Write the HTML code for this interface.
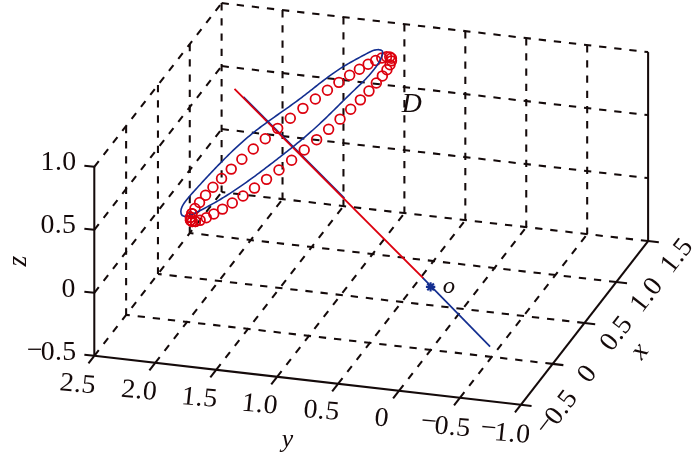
<!DOCTYPE html>
<html><head><meta charset="utf-8"><style>
html,body{margin:0;padding:0;background:#fff;}
svg{display:block;}
text{font-family:'Liberation Serif', 'DejaVu Serif', serif;fill:#140a0a;}
</style></head><body>
<svg width="700" height="456" viewBox="0 0 700 456">
<rect width="700" height="456" fill="#fff"/>
<g stroke-linecap="butt">
<line x1="459.88" y1="397.80" x2="587.18" y2="234.10" stroke="#140a0a" stroke-width="2.05" stroke-dasharray="7.3 7.9"/>
<line x1="398.95" y1="390.80" x2="526.25" y2="227.10" stroke="#140a0a" stroke-width="2.05" stroke-dasharray="7.3 7.9"/>
<line x1="338.02" y1="383.80" x2="465.32" y2="220.10" stroke="#140a0a" stroke-width="2.05" stroke-dasharray="7.3 7.9"/>
<line x1="277.09" y1="376.80" x2="404.39" y2="213.10" stroke="#140a0a" stroke-width="2.05" stroke-dasharray="7.3 7.9"/>
<line x1="216.16" y1="369.80" x2="343.46" y2="206.10" stroke="#140a0a" stroke-width="2.05" stroke-dasharray="7.3 7.9"/>
<line x1="155.23" y1="362.80" x2="282.53" y2="199.10" stroke="#140a0a" stroke-width="2.05" stroke-dasharray="7.3 7.9"/>
<line x1="94.30" y1="355.80" x2="221.60" y2="192.10" stroke="#140a0a" stroke-width="2.05" stroke-dasharray="7.3 7.9"/>
<line x1="552.63" y1="363.88" x2="126.12" y2="314.88" stroke="#140a0a" stroke-width="2.05" stroke-dasharray="7.3 7.9"/>
<line x1="584.46" y1="322.95" x2="157.95" y2="273.95" stroke="#140a0a" stroke-width="2.05" stroke-dasharray="7.3 7.9"/>
<line x1="616.28" y1="282.03" x2="189.77" y2="233.03" stroke="#140a0a" stroke-width="2.05" stroke-dasharray="7.3 7.9"/>
<line x1="648.11" y1="241.10" x2="221.60" y2="192.10" stroke="#140a0a" stroke-width="2.05" stroke-dasharray="7.3 7.9"/>
<line x1="587.18" y1="45.10" x2="587.18" y2="234.10" stroke="#140a0a" stroke-width="2.05" stroke-dasharray="7.3 7.9"/>
<line x1="526.25" y1="38.10" x2="526.25" y2="227.10" stroke="#140a0a" stroke-width="2.05" stroke-dasharray="7.3 7.9"/>
<line x1="465.32" y1="31.10" x2="465.32" y2="220.10" stroke="#140a0a" stroke-width="2.05" stroke-dasharray="7.3 7.9"/>
<line x1="404.39" y1="24.10" x2="404.39" y2="213.10" stroke="#140a0a" stroke-width="2.05" stroke-dasharray="7.3 7.9"/>
<line x1="343.46" y1="17.10" x2="343.46" y2="206.10" stroke="#140a0a" stroke-width="2.05" stroke-dasharray="7.3 7.9"/>
<line x1="282.53" y1="10.10" x2="282.53" y2="199.10" stroke="#140a0a" stroke-width="2.05" stroke-dasharray="7.3 7.9"/>
<line x1="221.60" y1="3.10" x2="221.60" y2="192.10" stroke="#140a0a" stroke-width="2.05" stroke-dasharray="7.3 7.9"/>
<line x1="221.60" y1="129.10" x2="648.11" y2="178.10" stroke="#140a0a" stroke-width="2.05" stroke-dasharray="7.3 7.9"/>
<line x1="221.60" y1="66.10" x2="648.11" y2="115.10" stroke="#140a0a" stroke-width="2.05" stroke-dasharray="7.3 7.9"/>
<line x1="221.60" y1="3.10" x2="648.11" y2="52.10" stroke="#140a0a" stroke-width="2.05" stroke-dasharray="7.3 7.9"/>
<line x1="126.12" y1="125.88" x2="126.12" y2="314.88" stroke="#140a0a" stroke-width="2.05" stroke-dasharray="7.3 7.9"/>
<line x1="157.95" y1="84.95" x2="157.95" y2="273.95" stroke="#140a0a" stroke-width="2.05" stroke-dasharray="7.3 7.9"/>
<line x1="189.77" y1="44.03" x2="189.77" y2="233.03" stroke="#140a0a" stroke-width="2.05" stroke-dasharray="7.3 7.9"/>
<line x1="94.30" y1="292.80" x2="221.60" y2="129.10" stroke="#140a0a" stroke-width="2.05" stroke-dasharray="7.3 7.9"/>
<line x1="94.30" y1="229.80" x2="221.60" y2="66.10" stroke="#140a0a" stroke-width="2.05" stroke-dasharray="7.3 7.9"/>
<line x1="94.30" y1="166.80" x2="221.60" y2="3.10" stroke="#140a0a" stroke-width="2.05" stroke-dasharray="7.3 7.9"/>
<line x1="94.30" y1="355.80" x2="94.30" y2="166.80" stroke="#140a0a" stroke-width="2.05"/>
<line x1="94.30" y1="355.80" x2="520.81" y2="404.80" stroke="#140a0a" stroke-width="2.05"/>
<line x1="520.81" y1="404.80" x2="648.11" y2="241.10" stroke="#140a0a" stroke-width="2.05"/>
<line x1="648.11" y1="241.10" x2="648.11" y2="52.10" stroke="#140a0a" stroke-width="2.05"/>
<line x1="94.30" y1="355.80" x2="84.37" y2="354.66" stroke="#140a0a" stroke-width="2.05"/>
<line x1="94.30" y1="292.80" x2="84.37" y2="291.66" stroke="#140a0a" stroke-width="2.05"/>
<line x1="94.30" y1="229.80" x2="84.37" y2="228.66" stroke="#140a0a" stroke-width="2.05"/>
<line x1="94.30" y1="166.80" x2="84.37" y2="165.66" stroke="#140a0a" stroke-width="2.05"/>
<line x1="520.81" y1="404.80" x2="514.98" y2="412.30" stroke="#140a0a" stroke-width="2.05"/>
<line x1="459.88" y1="397.80" x2="454.05" y2="405.30" stroke="#140a0a" stroke-width="2.05"/>
<line x1="398.95" y1="390.80" x2="393.12" y2="398.30" stroke="#140a0a" stroke-width="2.05"/>
<line x1="338.02" y1="383.80" x2="332.19" y2="391.30" stroke="#140a0a" stroke-width="2.05"/>
<line x1="277.09" y1="376.80" x2="271.26" y2="384.30" stroke="#140a0a" stroke-width="2.05"/>
<line x1="216.16" y1="369.80" x2="210.33" y2="377.30" stroke="#140a0a" stroke-width="2.05"/>
<line x1="155.23" y1="362.80" x2="149.40" y2="370.30" stroke="#140a0a" stroke-width="2.05"/>
<line x1="94.30" y1="355.80" x2="88.47" y2="363.30" stroke="#140a0a" stroke-width="2.05"/>
<line x1="520.81" y1="404.80" x2="531.54" y2="406.03" stroke="#140a0a" stroke-width="2.05"/>
<line x1="552.63" y1="363.88" x2="563.36" y2="365.11" stroke="#140a0a" stroke-width="2.05"/>
<line x1="584.46" y1="322.95" x2="595.19" y2="324.18" stroke="#140a0a" stroke-width="2.05"/>
<line x1="616.28" y1="282.03" x2="627.01" y2="283.26" stroke="#140a0a" stroke-width="2.05"/>
<line x1="648.11" y1="241.10" x2="658.84" y2="242.33" stroke="#140a0a" stroke-width="2.05"/>
</g>
<g id="data">
<line x1="243.42" y1="96.95" x2="344.38" y2="198.19" stroke="#132e90" stroke-width="1.7"/>
<line x1="422.6" y1="277.6" x2="490.1" y2="346.7" stroke="#132e90" stroke-width="1.7"/>
<line x1="234.5" y1="88.9" x2="423.2" y2="278.2" stroke="#dc000e" stroke-width="1.85"/>
<circle cx="391.42" cy="58.23" r="4.85" fill="none" stroke="#dc000e" stroke-width="1.75"/>
<circle cx="391.50" cy="60.86" r="4.85" fill="none" stroke="#dc000e" stroke-width="1.75"/>
<circle cx="390.00" cy="64.74" r="4.85" fill="none" stroke="#dc000e" stroke-width="1.75"/>
<circle cx="386.93" cy="69.78" r="4.85" fill="none" stroke="#dc000e" stroke-width="1.75"/>
<circle cx="382.35" cy="75.92" r="4.85" fill="none" stroke="#dc000e" stroke-width="1.75"/>
<circle cx="376.33" cy="83.06" r="4.85" fill="none" stroke="#dc000e" stroke-width="1.75"/>
<circle cx="368.97" cy="91.08" r="4.85" fill="none" stroke="#dc000e" stroke-width="1.75"/>
<circle cx="360.37" cy="99.86" r="4.85" fill="none" stroke="#dc000e" stroke-width="1.75"/>
<circle cx="350.68" cy="109.26" r="4.85" fill="none" stroke="#dc000e" stroke-width="1.75"/>
<circle cx="340.04" cy="119.14" r="4.85" fill="none" stroke="#dc000e" stroke-width="1.75"/>
<circle cx="328.63" cy="129.33" r="4.85" fill="none" stroke="#dc000e" stroke-width="1.75"/>
<circle cx="316.63" cy="139.67" r="4.85" fill="none" stroke="#dc000e" stroke-width="1.75"/>
<circle cx="304.22" cy="150.01" r="4.85" fill="none" stroke="#dc000e" stroke-width="1.75"/>
<circle cx="291.61" cy="160.18" r="4.85" fill="none" stroke="#dc000e" stroke-width="1.75"/>
<circle cx="278.98" cy="170.01" r="4.85" fill="none" stroke="#dc000e" stroke-width="1.75"/>
<circle cx="266.54" cy="179.36" r="4.85" fill="none" stroke="#dc000e" stroke-width="1.75"/>
<circle cx="254.49" cy="188.08" r="4.85" fill="none" stroke="#dc000e" stroke-width="1.75"/>
<circle cx="243.01" cy="196.02" r="4.85" fill="none" stroke="#dc000e" stroke-width="1.75"/>
<circle cx="232.29" cy="203.07" r="4.85" fill="none" stroke="#dc000e" stroke-width="1.75"/>
<circle cx="222.49" cy="209.11" r="4.85" fill="none" stroke="#dc000e" stroke-width="1.75"/>
<circle cx="213.77" cy="214.05" r="4.85" fill="none" stroke="#dc000e" stroke-width="1.75"/>
<circle cx="206.27" cy="217.81" r="4.85" fill="none" stroke="#dc000e" stroke-width="1.75"/>
<circle cx="200.11" cy="220.33" r="4.85" fill="none" stroke="#dc000e" stroke-width="1.75"/>
<circle cx="195.38" cy="221.57" r="4.85" fill="none" stroke="#dc000e" stroke-width="1.75"/>
<circle cx="192.15" cy="221.51" r="4.85" fill="none" stroke="#dc000e" stroke-width="1.75"/>
<circle cx="190.48" cy="220.15" r="4.85" fill="none" stroke="#dc000e" stroke-width="1.75"/>
<circle cx="190.40" cy="217.51" r="4.85" fill="none" stroke="#dc000e" stroke-width="1.75"/>
<circle cx="191.91" cy="213.64" r="4.85" fill="none" stroke="#dc000e" stroke-width="1.75"/>
<circle cx="194.97" cy="208.59" r="4.85" fill="none" stroke="#dc000e" stroke-width="1.75"/>
<circle cx="199.55" cy="202.45" r="4.85" fill="none" stroke="#dc000e" stroke-width="1.75"/>
<circle cx="205.57" cy="195.32" r="4.85" fill="none" stroke="#dc000e" stroke-width="1.75"/>
<circle cx="212.94" cy="187.29" r="4.85" fill="none" stroke="#dc000e" stroke-width="1.75"/>
<circle cx="221.54" cy="178.51" r="4.85" fill="none" stroke="#dc000e" stroke-width="1.75"/>
<circle cx="231.23" cy="169.11" r="4.85" fill="none" stroke="#dc000e" stroke-width="1.75"/>
<circle cx="241.86" cy="159.24" r="4.85" fill="none" stroke="#dc000e" stroke-width="1.75"/>
<circle cx="253.27" cy="149.05" r="4.85" fill="none" stroke="#dc000e" stroke-width="1.75"/>
<circle cx="265.27" cy="138.70" r="4.85" fill="none" stroke="#dc000e" stroke-width="1.75"/>
<circle cx="277.68" cy="128.36" r="4.85" fill="none" stroke="#dc000e" stroke-width="1.75"/>
<circle cx="290.30" cy="118.20" r="4.85" fill="none" stroke="#dc000e" stroke-width="1.75"/>
<circle cx="302.92" cy="108.36" r="4.85" fill="none" stroke="#dc000e" stroke-width="1.75"/>
<circle cx="315.36" cy="99.01" r="4.85" fill="none" stroke="#dc000e" stroke-width="1.75"/>
<circle cx="327.42" cy="90.29" r="4.85" fill="none" stroke="#dc000e" stroke-width="1.75"/>
<circle cx="338.89" cy="82.35" r="4.85" fill="none" stroke="#dc000e" stroke-width="1.75"/>
<circle cx="349.62" cy="75.30" r="4.85" fill="none" stroke="#dc000e" stroke-width="1.75"/>
<circle cx="359.41" cy="69.26" r="4.85" fill="none" stroke="#dc000e" stroke-width="1.75"/>
<circle cx="368.13" cy="64.32" r="4.85" fill="none" stroke="#dc000e" stroke-width="1.75"/>
<circle cx="375.63" cy="60.56" r="4.85" fill="none" stroke="#dc000e" stroke-width="1.75"/>
<circle cx="381.80" cy="58.05" r="4.85" fill="none" stroke="#dc000e" stroke-width="1.75"/>
<circle cx="386.53" cy="56.81" r="4.85" fill="none" stroke="#dc000e" stroke-width="1.75"/>
<circle cx="389.75" cy="56.87" r="4.85" fill="none" stroke="#dc000e" stroke-width="1.75"/>
<path d="M182.19,215.49 L181.13,213.76 L180.84,211.44 L181.18,209.12 L181.98,206.97 L183.04,204.95 L184.23,203.03 L185.53,201.19 L186.90,199.41 L188.33,197.69 L189.80,195.99 L191.28,194.32 L192.76,192.65 L194.24,190.99 L195.73,189.34 L197.22,187.70 L198.72,186.06 L200.22,184.42 L201.72,182.79 L203.23,181.16 L204.74,179.53 L206.25,177.91 L207.77,176.28 L209.29,174.65 L210.82,173.02 L212.36,171.40 L213.90,169.78 L215.44,168.16 L216.99,166.54 L218.55,164.93 L220.11,163.32 L221.68,161.72 L223.25,160.12 L224.84,158.53 L226.43,156.95 L228.02,155.37 L229.63,153.80 L231.24,152.24 L232.86,150.69 L234.49,149.15 L236.12,147.62 L237.77,146.10 L239.42,144.59 L241.08,143.09 L242.75,141.60 L244.43,140.13 L246.12,138.66 L247.82,137.22 L249.53,135.78 L251.25,134.37 L252.99,132.96 L254.73,131.58 L256.48,130.20 L258.24,128.85 L260.01,127.50 L261.78,126.16 L263.57,124.84 L265.36,123.52 L267.16,122.22 L268.96,120.92 L270.76,119.62 L272.57,118.33 L274.39,117.05 L276.21,115.77 L278.03,114.49 L279.85,113.21 L281.67,111.93 L283.49,110.65 L285.31,109.37 L287.13,108.08 L288.95,106.79 L290.76,105.50 L292.58,104.20 L294.39,102.89 L296.19,101.57 L297.99,100.24 L299.78,98.90 L301.57,97.55 L303.35,96.19 L305.13,94.82 L306.90,93.44 L308.67,92.06 L310.44,90.67 L312.20,89.28 L313.97,87.89 L315.73,86.50 L317.50,85.12 L319.26,83.74 L321.03,82.36 L322.80,81.00 L324.58,79.64 L326.35,78.30 L328.14,76.97 L329.93,75.65 L331.73,74.35 L333.53,73.07 L335.35,71.81 L337.17,70.57 L339.00,69.35 L340.85,68.16 L342.71,67.00 L344.58,65.86 L346.46,64.73 L348.35,63.63 L350.27,62.53 L352.19,61.45 L354.14,60.37 L356.10,59.30 L358.08,58.22 L360.08,57.14 L362.09,56.06 L364.13,54.97 L366.19,53.86 L368.27,52.75 L370.37,51.70 L372.49,50.78 L374.62,50.09 L376.76,49.68 L378.92,49.66 L381.02,50.10 L382.44,51.16 L382.75,52.84 L382.33,54.87 L381.57,56.97 L380.66,59.05 L379.61,61.08 L378.45,63.08 L377.20,65.03 L375.89,66.93 L374.54,68.77 L373.15,70.56 L371.73,72.31 L370.28,74.02 L368.80,75.69 L367.29,77.32 L365.76,78.93 L364.22,80.51 L362.65,82.07 L361.07,83.61 L359.49,85.14 L357.89,86.67 L356.29,88.19 L354.69,89.71 L353.09,91.23 L351.49,92.77 L349.89,94.31 L348.30,95.86 L346.71,97.41 L345.12,98.97 L343.53,100.54 L341.95,102.11 L340.36,103.68 L338.77,105.25 L337.19,106.83 L335.60,108.40 L334.01,109.98 L332.41,111.55 L330.82,113.12 L329.22,114.69 L327.61,116.25 L326.00,117.81 L324.39,119.36 L322.77,120.91 L321.14,122.44 L319.51,123.97 L317.87,125.49 L316.23,127.00 L314.57,128.50 L312.91,129.99 L311.24,131.46 L309.56,132.93 L307.87,134.39 L306.18,135.84 L304.48,137.28 L302.77,138.71 L301.06,140.13 L299.34,141.55 L297.62,142.96 L295.89,144.36 L294.16,145.76 L292.43,147.15 L290.69,148.54 L288.94,149.93 L287.19,151.31 L285.44,152.69 L283.69,154.06 L281.93,155.43 L280.18,156.80 L278.42,158.17 L276.66,159.54 L274.89,160.91 L273.13,162.28 L271.36,163.64 L269.59,165.00 L267.82,166.36 L266.04,167.72 L264.27,169.07 L262.49,170.42 L260.70,171.76 L258.92,173.10 L257.12,174.44 L255.33,175.77 L253.53,177.09 L251.73,178.41 L249.92,179.72 L248.11,181.02 L246.29,182.31 L244.47,183.60 L242.64,184.88 L240.81,186.15 L238.97,187.42 L237.13,188.67 L235.27,189.91 L233.42,191.14 L231.55,192.37 L229.68,193.58 L227.81,194.78 L225.92,195.97 L224.03,197.14 L222.13,198.30 L220.23,199.46 L218.31,200.59 L216.39,201.72 L214.46,202.83 L212.52,203.92 L210.58,205.00 L208.62,206.07 L206.65,207.14 L204.67,208.19 L202.68,209.23 L200.68,210.27 L198.66,211.30 L196.63,212.33 L194.59,213.36 L192.52,214.34 L190.44,215.19 L188.34,215.84 L186.20,216.20 L184.05,216.19 L182.19,215.49Z" fill="none" stroke="#132e90" stroke-width="1.6" stroke-linejoin="round"/>
<circle cx="195.38" cy="221.57" r="4.85" fill="none" stroke="#dc000e" stroke-width="1.75"/>
<circle cx="192.15" cy="221.51" r="4.85" fill="none" stroke="#dc000e" stroke-width="1.75"/>
<circle cx="190.48" cy="220.15" r="4.85" fill="none" stroke="#dc000e" stroke-width="1.75"/>
<circle cx="190.40" cy="217.51" r="4.85" fill="none" stroke="#dc000e" stroke-width="1.75"/>
<circle cx="191.91" cy="213.64" r="4.85" fill="none" stroke="#dc000e" stroke-width="1.75"/>
<path d="M425.90,286.90L435.30,286.90 M427.28,283.58L433.92,290.22 M430.60,282.20L430.60,291.60 M433.92,283.58L427.28,290.22" stroke="#132e90" stroke-width="2.1" fill="none"/>
</g>
<text x="0" y="0" font-size="27" text-anchor="middle" dominant-baseline="central" letter-spacing="0.4" transform="translate(58.60 161.15) scale(1.03 1)">1.0</text>
<text x="0" y="0" font-size="27" text-anchor="middle" dominant-baseline="central" letter-spacing="0.4" transform="translate(58.45 223.95) scale(1.03 1)">0.5</text>
<text x="0" y="0" font-size="27" text-anchor="middle" dominant-baseline="central" letter-spacing="0.4" transform="translate(68.70 287.90) scale(1.03 1)">0</text>
<text x="0" y="0" font-size="27" text-anchor="middle" dominant-baseline="central" letter-spacing="0.4" transform="translate(51.70 350.80) scale(1.03 1)"><tspan dy="-2.0">−</tspan><tspan dx="-2.2" dy="2.0">0.5</tspan></text>
<text x="0" y="0" font-size="27" text-anchor="middle" dominant-baseline="central" letter-spacing="0.4" font-style="italic" transform="translate(17.00 260.90) rotate(-90) scale(1.03 1)">z</text>
<text x="0" y="0" font-size="27" text-anchor="middle" dominant-baseline="central" letter-spacing="0.4" transform="translate(78.00 383.15) skewY(5) skewX(-6) scale(1.03 1)">2.5</text>
<text x="0" y="0" font-size="27" text-anchor="middle" dominant-baseline="central" letter-spacing="0.4" transform="translate(139.35 389.60) skewY(5) skewX(-6) scale(1.03 1)">2.0</text>
<text x="0" y="0" font-size="27" text-anchor="middle" dominant-baseline="central" letter-spacing="0.4" transform="translate(199.70 396.75) skewY(5) skewX(-6) scale(1.03 1)">1.5</text>
<text x="0" y="0" font-size="27" text-anchor="middle" dominant-baseline="central" letter-spacing="0.4" transform="translate(259.90 403.30) skewY(5) skewX(-6) scale(1.03 1)">1.0</text>
<text x="0" y="0" font-size="27" text-anchor="middle" dominant-baseline="central" letter-spacing="0.4" transform="translate(321.70 409.70) skewY(5) skewX(-6) scale(1.03 1)">0.5</text>
<text x="0" y="0" font-size="27" text-anchor="middle" dominant-baseline="central" letter-spacing="0.4" transform="translate(381.85 417.05) skewY(5) skewX(-6) scale(1.03 1)">0</text>
<text x="0" y="0" font-size="27" text-anchor="middle" dominant-baseline="central" letter-spacing="0.4" transform="translate(445.85 425.50) skewY(5) skewX(-6) scale(1.03 1)"><tspan dy="-3.5">−</tspan><tspan dx="-2.2" dy="3.5">0.5</tspan></text>
<text x="0" y="0" font-size="27" text-anchor="middle" dominant-baseline="central" letter-spacing="0.4" transform="translate(505.55 432.15) skewY(5) skewX(-6) scale(1.03 1)"><tspan dy="-3.5">−</tspan><tspan dx="-2.2" dy="3.5">1.0</tspan></text>
<text x="0" y="0" font-size="25" text-anchor="middle" dominant-baseline="central" letter-spacing="0.4" font-style="italic" transform="translate(287.60 437.70) scale(1.03 1)">y</text>
<text x="0" y="0" font-size="27" text-anchor="middle" dominant-baseline="central" letter-spacing="0.4" transform="translate(676.00 254.85) rotate(-52.13) scale(1.03 1)">1.5</text>
<text x="0" y="0" font-size="27" text-anchor="middle" dominant-baseline="central" letter-spacing="0.4" transform="translate(645.85 294.15) rotate(-52.13) scale(1.03 1)">1.0</text>
<text x="0" y="0" font-size="27" text-anchor="middle" dominant-baseline="central" letter-spacing="0.4" transform="translate(615.45 332.75) rotate(-52.13) scale(1.03 1)">0.5</text>
<text x="0" y="0" font-size="27" text-anchor="middle" dominant-baseline="central" letter-spacing="0.4" transform="translate(586.35 373.05) rotate(-52.13) scale(1.03 1)">0</text>
<text x="0" y="0" font-size="27" text-anchor="middle" dominant-baseline="central" letter-spacing="0.4" transform="translate(556.35 412.30) rotate(-52.13) scale(1.03 1)"><tspan dy="-2.0">−</tspan><tspan dx="-2.2" dy="2.0">0.5</tspan></text>
<text x="0" y="0" font-size="27" text-anchor="middle" dominant-baseline="central" letter-spacing="0.4" font-style="italic" transform="translate(638.75 350.35) rotate(-52.13) scale(1.03 1)">x</text>
<text x="0" y="0" font-size="27" text-anchor="middle" dominant-baseline="central" letter-spacing="0.4" font-style="italic" transform="translate(412.10 103.40) scale(1.03 1)">D</text>
<text x="0" y="0" font-size="24" text-anchor="middle" dominant-baseline="central" letter-spacing="0.4" font-style="italic" transform="translate(449.15 284.55) scale(1.03 1)">o</text>
</svg>
</body></html>
